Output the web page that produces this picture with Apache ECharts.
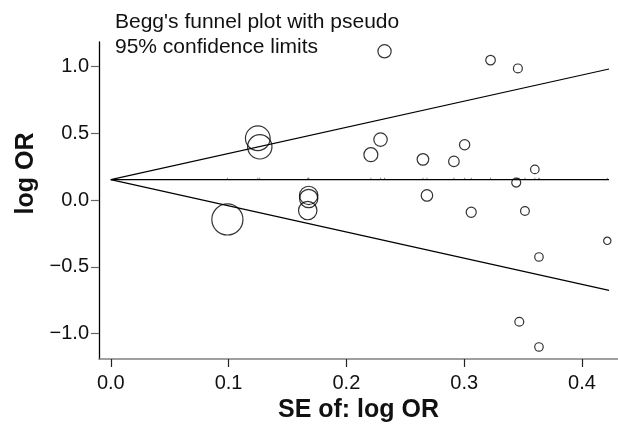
<!DOCTYPE html>
<html>
<head>
<meta charset="utf-8">
<script src="https://cdn.jsdelivr.net/npm/echarts@6/dist/echarts.min.js"></script>
<style>
  html, body { margin: 0; padding: 0; background: #fff; }
  #chart { width: 618px; height: 428px; }
</style>
</head>
<body>
<div id="chart"></div>
<script>
// study standard errors and log odds ratios
var seValues = [0.0990, 0.1248, 0.1265, 0.1680, 0.1680, 0.1672, 0.2208, 0.2290, 0.2324, 0.2650, 0.2684, 0.2913,
                0.3004, 0.3060, 0.3224, 0.3442, 0.3456, 0.3468, 0.3516, 0.3600, 0.3635, 0.3635, 0.4215];
var logOR = [-0.145, 0.463, 0.399, 0.035, 0.012, -0.078, 0.340, 0.453, 1.114, 0.305, 0.035, 0.290,
             0.414, -0.091, 1.048, 0.131, 0.986, -0.911, -0.082, 0.230, -0.426, -1.100, -0.305];

// pseudo 95% limits, read at both ends
var funnelSE = [0, 0.423];
var centerLine = [0.153, 0.153];
var upperLimit = [0.153, 0.982];
var lowerLimit = [0.153, -0.676];

var xTicks = [0, 0.1, 0.2, 0.3, 0.4];
var yTicks = [-1, -0.5, 0, 0.5, 1];

var chart = echarts.init(document.getElementById('chart'));

function pairs(xs, ys) {
  var out = [];
  for (var i = 0; i < xs.length; i++) out.push([xs[i], ys[i]]);
  return out;
}

var lineStyle = { color: '#000', width: 1.2 };
var font = 'Liberation Sans';

chart.setOption({
  animation: false,
  title: {
    text: "Begg's funnel plot with pseudo\n95% confidence limits",
    left: 115, top: 10, padding: 0,
    textStyle: { fontFamily: font, fontSize: 21, fontWeight: 'normal', color: '#111', lineHeight: 24.5 }
  },
  grid: { left: 99, right: 0, top: 42, bottom: 66 },
  xAxis: {
    type: 'value', min: -0.01, max: 0.4306,
    name: 'SE of: log OR', nameLocation: 'middle', nameGap: 39,
    nameTextStyle: { fontFamily: font, fontSize: 25, fontWeight: 'bold', color: '#111' },
    splitLine: { show: false },
    axisLine: { onZero: false, lineStyle: { color: '#808080', width: 1.6 } },
    axisTick: { customValues: xTicks, length: 8, lineStyle: { color: '#222', width: 1.2 } },
    axisLabel: {
      customValues: xTicks, margin: 14,
      fontFamily: font, fontSize: 20, color: '#111',
      formatter: function (v) { return v.toFixed(1); }
    }
  },
  yAxis: {
    type: 'value', min: -1.19, max: 1.184,
    name: 'log OR', nameLocation: 'middle', nameGap: 60, nameRotate: 90,
    nameTextStyle: { fontFamily: font, fontSize: 25, fontWeight: 'bold', color: '#111', padding: [0, 0, 0, 54] },
    splitLine: { show: false },
    axisLine: { show: true, onZero: false, lineStyle: { color: '#000', width: 1.3 } },
    axisTick: { show: true, customValues: yTicks, length: 8, lineStyle: { color: '#666', width: 1.2 } },
    axisLabel: {
      customValues: yTicks, margin: 10,
      fontFamily: font, fontSize: 20, color: '#111',
      formatter: function (v) { return (v < 0 ? '\u2212' : '') + Math.abs(v).toFixed(1); }
    }
  },
  series: [
    { type: 'line', data: pairs(funnelSE, centerLine), symbol: 'none', lineStyle: lineStyle },
    { type: 'line', data: pairs(funnelSE, upperLimit), symbol: 'none', lineStyle: lineStyle },
    { type: 'line', data: pairs(funnelSE, lowerLimit), symbol: 'none', lineStyle: lineStyle },
    {
      // small marks on the pooled line at each study's SE
      type: 'scatter',
      data: seValues.map(function (s) { return [s, centerLine[0]]; }),
      symbol: 'rect', symbolSize: [1, 2], symbolOffset: [0, -1],
      itemStyle: { color: '#666' }
    },
    {
      type: 'scatter',
      data: pairs(seValues, logOR),
      symbol: 'circle',
      symbolSize: function (d) { return 3.08 / d[0]; },
      itemStyle: { color: 'transparent', borderColor: '#000', borderWidth: 1.2 }
    }
  ]
});
</script>
</body>
</html>
